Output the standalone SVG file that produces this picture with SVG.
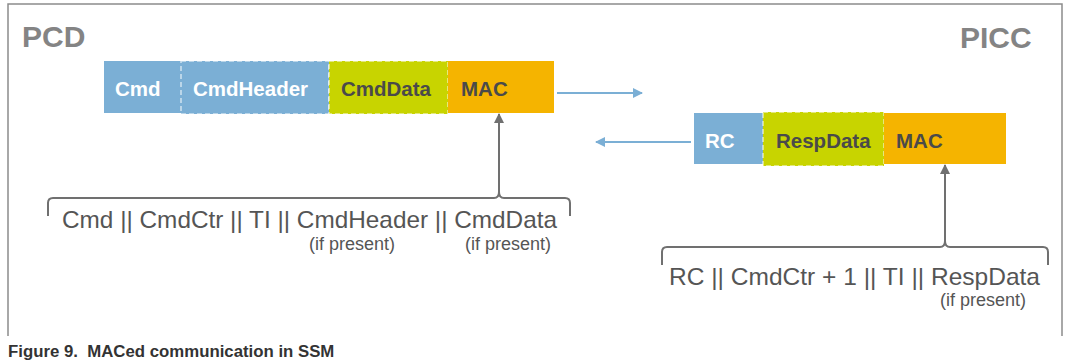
<svg xmlns="http://www.w3.org/2000/svg" width="1066" height="364" viewBox="0 0 1066 364">
<defs>
<style>
.frame{fill:none;stroke:#8c8c8c;stroke-width:1.5}
.side{font-family:"Liberation Sans",Arial,sans-serif;font-weight:bold;font-size:30px;fill:#848484}
.lbl{font-family:"Liberation Sans",Arial,sans-serif;font-weight:bold;font-size:20.5px}
.w{fill:#ffffff}
.d{fill:#4a4a4a}
.blue{fill:#7bafd5}
.green{fill:#c8d400}
.orange{fill:#f5b400}
.dash{fill:none;stroke:#ffffff;stroke-opacity:0.65;stroke-width:1.5;stroke-dasharray:5 3}
.flow{fill:none;stroke:#7bafd5;stroke-width:2}
.up{fill:none;stroke:#707070;stroke-width:2}
.brace{fill:none;stroke:#707070;stroke-width:2}
.expr{font-family:"Liberation Sans",Arial,sans-serif;font-size:24px;fill:#555555}
.note{font-family:"Liberation Sans",Arial,sans-serif;font-size:18px;fill:#555555}
.cap{font-family:"Liberation Sans",Arial,sans-serif;font-weight:bold;font-size:16.8px;fill:#333333}
</style>
<marker id="ab" viewBox="0 0 10 10" refX="9" refY="5" markerWidth="5" markerHeight="5" orient="auto" markerUnits="strokeWidth">
<path d="M0,0 L10,5 L0,10 Z" fill="#7bafd5"/>
</marker>
<marker id="ag" viewBox="0 0 10 10" refX="9" refY="5" markerWidth="5" markerHeight="5" orient="auto" markerUnits="strokeWidth">
<path d="M0,0 L10,5 L0,10 Z" fill="#707070"/>
</marker>
</defs>
<rect width="1066" height="364" fill="#ffffff"/>
<path class="frame" d="M8,336 L8,4 L1062,4 L1062,336"/>
<text class="side" x="22" y="47">PCD</text>
<text class="side" x="960" y="48">PICC</text>

<g id="pcd-cmd">
<rect class="blue" x="104" y="61" width="77" height="52"/>
<text class="lbl w" x="115" y="96">Cmd</text>
</g>
<g id="pcd-cmdheader">
<rect class="blue" x="181" y="61" width="148" height="53"/>
<rect class="dash" x="181" y="61" width="148" height="53"/>
<text class="lbl w" x="193" y="96">CmdHeader</text>
</g>
<g id="pcd-cmddata">
<rect class="green" x="329" y="61" width="119" height="53"/>
<rect class="dash" x="329" y="61" width="119" height="53"/>
<text class="lbl d" x="341" y="96">CmdData</text>
</g>
<g id="pcd-mac">
<rect class="orange" x="448" y="61" width="106" height="52"/>
<text class="lbl d" x="461" y="96">MAC</text>
</g>

<g id="picc-rc">
<rect class="blue" x="694" y="113" width="69" height="51"/>
<text class="lbl w" x="705" y="148">RC</text>
</g>
<g id="picc-respdata">
<rect class="green" x="763" y="112" width="121" height="54"/>
<rect class="dash" x="763" y="112" width="121" height="54"/>
<text class="lbl d" x="776" y="148">RespData</text>
</g>
<g id="picc-mac">
<rect class="orange" x="884" y="113" width="122" height="51"/>
<text class="lbl d" x="896" y="148">MAC</text>
</g>

<g id="pcd-mac-input">
<path class="brace" d="M48,216 L48,203 Q48,198 53,198 L494,198 Q499,198 499,192 Q499,198 504,198 L565,198 Q570,198 570,203 L570,216"/>
<text class="expr" x="62" y="228" textLength="495" lengthAdjust="spacingAndGlyphs">Cmd || CmdCtr || TI || CmdHeader || CmdData</text>
<text class="note" x="309" y="250">(if present)</text>
<text class="note" x="465" y="250">(if present)</text>
</g>
<g id="picc-mac-input">
<path class="brace" d="M662,265 L662,252 Q662,247 667,247 L940,247 Q945,247 945,241 Q945,247 950,247 L1043,247 Q1048,247 1048,252 L1048,265"/>
<text class="expr" x="669" y="285" textLength="371" lengthAdjust="spacingAndGlyphs">RC || CmdCtr + 1 || TI || RespData</text>
<text class="note" x="940" y="306">(if present)</text>
</g>

<g id="connectors">
<line class="flow" x1="557" y1="93" x2="642" y2="93" marker-end="url(#ab)"/>
<line class="flow" x1="691" y1="142" x2="596" y2="142" marker-end="url(#ab)"/>
<line class="up" x1="499" y1="192" x2="499" y2="114" marker-end="url(#ag)"/>
<line class="up" x1="945" y1="241" x2="945" y2="165" marker-end="url(#ag)"/>
</g>

<text class="cap" x="8" y="357" xml:space="preserve">Figure 9.  MACed communication in SSM</text>
</svg>
